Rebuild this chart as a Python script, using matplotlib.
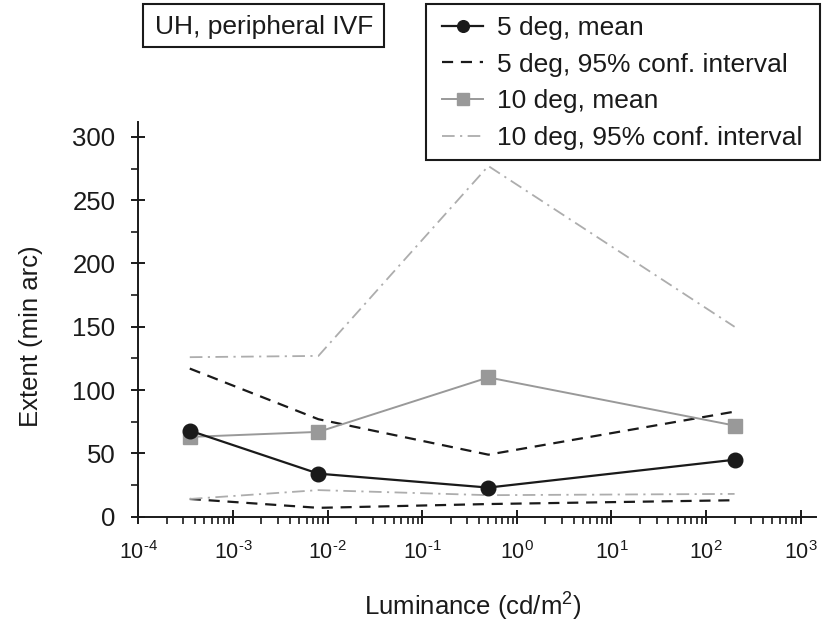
import matplotlib
matplotlib.use("Agg")
import matplotlib.pyplot as plt
from matplotlib.patches import Rectangle
from matplotlib.legend_handler import HandlerLine2D
from matplotlib.ticker import FixedLocator, LogLocator, MultipleLocator, NullFormatter, FuncFormatter
import math

plt.rcParams['font.family'] = ['Liberation Sans', 'DejaVu Sans']
plt.rcParams['mathtext.fontset'] = 'custom'
plt.rcParams['mathtext.rm'] = 'Liberation Sans'
plt.rcParams['mathtext.it'] = 'Liberation Sans:italic'

# Luminance levels (cd/m^2) and extent values (min arc)
luminance = [3.5e-4, 8e-3, 0.5, 200]
mean_5deg = [68, 34, 23, 45]
ci_low_5deg = [14, 7, 10, 13]
ci_high_5deg = [117, 77, 49, 83]
mean_10deg = [63, 67, 110, 72]
ci_low_10deg = [14, 21, 17, 18]
ci_high_10deg = [126, 127, 277, 150]

x_ticks = [1e-4, 1e-3, 1e-2, 1e-1, 1e0, 1e1, 1e2, 1e3]
y_ticks = [0, 50, 100, 150, 200, 250, 300]

W, H = 835, 625
fs_label = 18.5
fs_box = 19
dark = '#1a1a1a'
grey = '#999999'
light = '#adadad'


def fx(px):
    return px / W


def fy(py):
    return 1 - py / H


fig = plt.figure(figsize=(W / 100, H / 100), dpi=100)
ax = fig.add_axes([fx(138.3), fy(516.7), fx(816) - fx(138.3), fy(121.7) - fy(516.7)])

l1, = ax.plot(luminance, mean_5deg, color=dark, lw=1.6, marker='o', ms=10.5,
              label='5 deg, mean', zorder=5)
l2, = ax.plot(luminance, ci_high_5deg, color=dark, lw=1.6, ls=(0, (5, 3.5)),
              label='5 deg, 95% conf. interval')
ax.plot(luminance, ci_low_5deg, color=dark, lw=1.6, ls=(0, (5, 3.5)))
l3, = ax.plot(luminance, mean_10deg, color=grey, lw=1.4, marker='s', ms=10.5,
              label='10 deg, mean', zorder=4)
l4, = ax.plot(luminance, ci_high_10deg, color=light, lw=1.3, ls=(0, (7, 3, 1.2, 3)),
              label='10 deg, 95% conf. interval')
ax.plot(luminance, ci_low_10deg, color=light, lw=1.3, ls=(0, (7, 3, 1.2, 3)))

ax.set_xscale('log')
ax.set_xlim(1e-4, 1.45e3)
ax.set_ylim(0, 312)
ax.xaxis.set_major_locator(FixedLocator(x_ticks))
ax.xaxis.set_major_formatter(FuncFormatter(
    lambda v, pos: r'$\mathdefault{10^{\text{%d}}}$' % round(math.log10(v))))
ax.xaxis.set_minor_locator(LogLocator(base=10, subs=range(2, 10), numticks=20))
ax.xaxis.set_minor_formatter(NullFormatter())
ax.yaxis.set_major_locator(FixedLocator(y_ticks))
ax.yaxis.set_minor_locator(MultipleLocator(25))

for side in ['top', 'right']:
    ax.spines[side].set_visible(False)
for side in ['left', 'bottom']:
    ax.spines[side].set_linewidth(1.4)
    ax.spines[side].set_color(dark)

ax.tick_params(which='major', direction='inout', length=10, width=1.4, colors=dark)
ax.tick_params(which='minor', direction='out', length=4.7, width=1.2, colors=dark)
ax.tick_params(axis='y', which='major', labelsize=18.5, pad=11.5)
ax.tick_params(axis='x', which='major', labelsize=15.5, pad=12.5)

ax.set_xlabel('Luminance (cd/m$^2$)', fontsize=fs_label, color=dark)
ax.set_ylabel('Extent (min arc)', fontsize=fs_label, color=dark)
ax.xaxis.set_label_coords(0.493, -0.188)
ax.yaxis.set_label_coords(-0.1406, 0.456)

# legend: content placed by the legend, border drawn as a separate rectangle
leg_left, leg_top, leg_right, leg_bottom = 425.7, 4, 820, 160
leg = fig.legend(handles=[l1, l2, l3, l4], loc='upper left',
                 bbox_to_anchor=(fx(leg_left), fy(leg_top)), bbox_transform=fig.transFigure,
                 fontsize=fs_box, frameon=False, borderaxespad=0,
                 handlelength=1.74, handletextpad=0.5, labelspacing=0.48,
                 borderpad=0.45, markerscale=0.8,
                 handler_map={l: HandlerLine2D(xpad=0.155) for l in [l1, l2, l3, l4]})
for t in leg.get_texts():
    t.set_color(dark)
fig.add_artist(Rectangle((fx(leg_left), fy(leg_bottom)), fx(leg_right) - fx(leg_left),
                         fy(leg_top) - fy(leg_bottom), transform=fig.transFigure,
                         fill=False, ec=dark, lw=1.5))

# panel label box
box_left, box_top, box_right, box_bottom = 143.3, 4, 384.3, 46.7
fig.add_artist(Rectangle((fx(box_left), fy(box_bottom)), fx(box_right) - fx(box_left),
                         fy(box_top) - fy(box_bottom), transform=fig.transFigure,
                         fc='white', ec=dark, lw=1.5))
fig.text(fx((box_left + box_right) / 2), fy(34.3), 'UH, peripheral IVF', fontsize=fs_box,
         ha='center', va='baseline', color=dark)

fig.savefig('out.png', dpi=100)
